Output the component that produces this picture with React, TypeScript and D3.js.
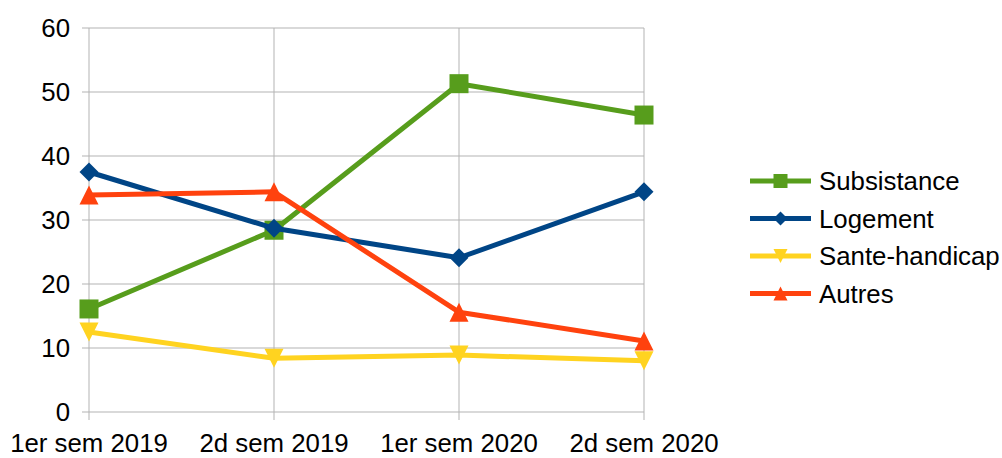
import React from 'react';
import * as d3 from 'd3';

const width = 1002;
const height = 458;

const categories = ['1er sem 2019', '2d sem 2019', '1er sem 2020', '2d sem 2020'];
const seriesNames = ['Subsistance', 'Logement', 'Sante-handicap', 'Autres'];
const subsistance = [16.1, 28.4, 51.3, 46.4];
const logement = [37.5, 28.7, 24.1, 34.4];
const santeHandicap = [12.5, 8.4, 8.9, 8.0];
const autres = [33.9, 34.4, 15.6, 11.1];
const yTicks = [0, 10, 20, 30, 40, 50, 60];

const colors = ['#579d1c', '#004586', '#ffd320', '#ff420e'];
const symbols = ['square', 'diamond', 'down', 'up'];
const allValues = [subsistance, logement, santeHandicap, autres];

const x = d3.scalePoint<string>().domain(categories).range([89, 644]);
const y = d3.scaleLinear().domain([0, 60]).range([412, 28]);

const font = '"Liberation Sans", Arial, sans-serif';
const fs = 25.8;

function marker(kind: string, cx: number, cy: number, s: number, fill: string, key?: string) {
  const h = s / 2;
  if (kind === 'square') return <rect key={key} x={cx - h} y={cy - h} width={s} height={s} fill={fill} />;
  if (kind === 'diamond')
    return <path key={key} d={`M${cx},${cy - h}L${cx + h},${cy}L${cx},${cy + h}L${cx - h},${cy}Z`} fill={fill} />;
  if (kind === 'down')
    return <path key={key} d={`M${cx - h},${cy - h}L${cx + h},${cy - h}L${cx},${cy + h}Z`} fill={fill} />;
  return <path key={key} d={`M${cx - h},${cy + h}L${cx + h},${cy + h}L${cx},${cy - h}Z`} fill={fill} />;
}

export default function App() {
  const line = d3
    .line<number>()
    .x((_, i) => x(categories[i]) as number)
    .y((d) => y(d));

  return (
    <svg width={width} height={height} style={{ position: 'fixed', left: 0, top: 0, background: '#fff' }}>
      <g>
        {yTicks.map((t) => (
          <g key={t}>
            <line x1={82} x2={644} y1={y(t)} y2={y(t)} stroke="#b3b3b3" strokeWidth={1} />
            <text x={70} y={y(t)} dy="0.35em" textAnchor="end" fontFamily={font} fontSize={fs} fill="#000">
              {t}
            </text>
          </g>
        ))}
        {categories.map((c) => (
          <g key={c}>
            <line x1={x(c)} x2={x(c)} y1={28} y2={420} stroke="#b3b3b3" strokeWidth={1} />
            <text x={x(c)} y={452} textAnchor="middle" fontFamily={font} fontSize={fs} fill="#000">
              {c}
            </text>
          </g>
        ))}
      </g>
      {allValues.map((vals, si) => (
        <g key={si}>
          <path d={line(vals) as string} fill="none" stroke={colors[si]} strokeWidth={5} strokeLinejoin="round" />
          {vals.map((v, i) => marker(symbols[si], x(categories[i]) as number, y(v), 19, colors[si], String(i)))}
        </g>
      ))}
      <g>
        {seriesNames.map((n, i) => {
          const ly = 181 + i * 37.5;
          return (
            <g key={n}>
              <line x1={750} x2={811} y1={ly} y2={ly} stroke={colors[i]} strokeWidth={5} />
              {marker(symbols[i], 780.5, ly, 14, colors[i])}
              <text x={819} y={ly} dy="0.35em" fontFamily={font} fontSize={fs} fill="#000">
                {n}
              </text>
            </g>
          );
        })}
      </g>
    </svg>
  );
}
